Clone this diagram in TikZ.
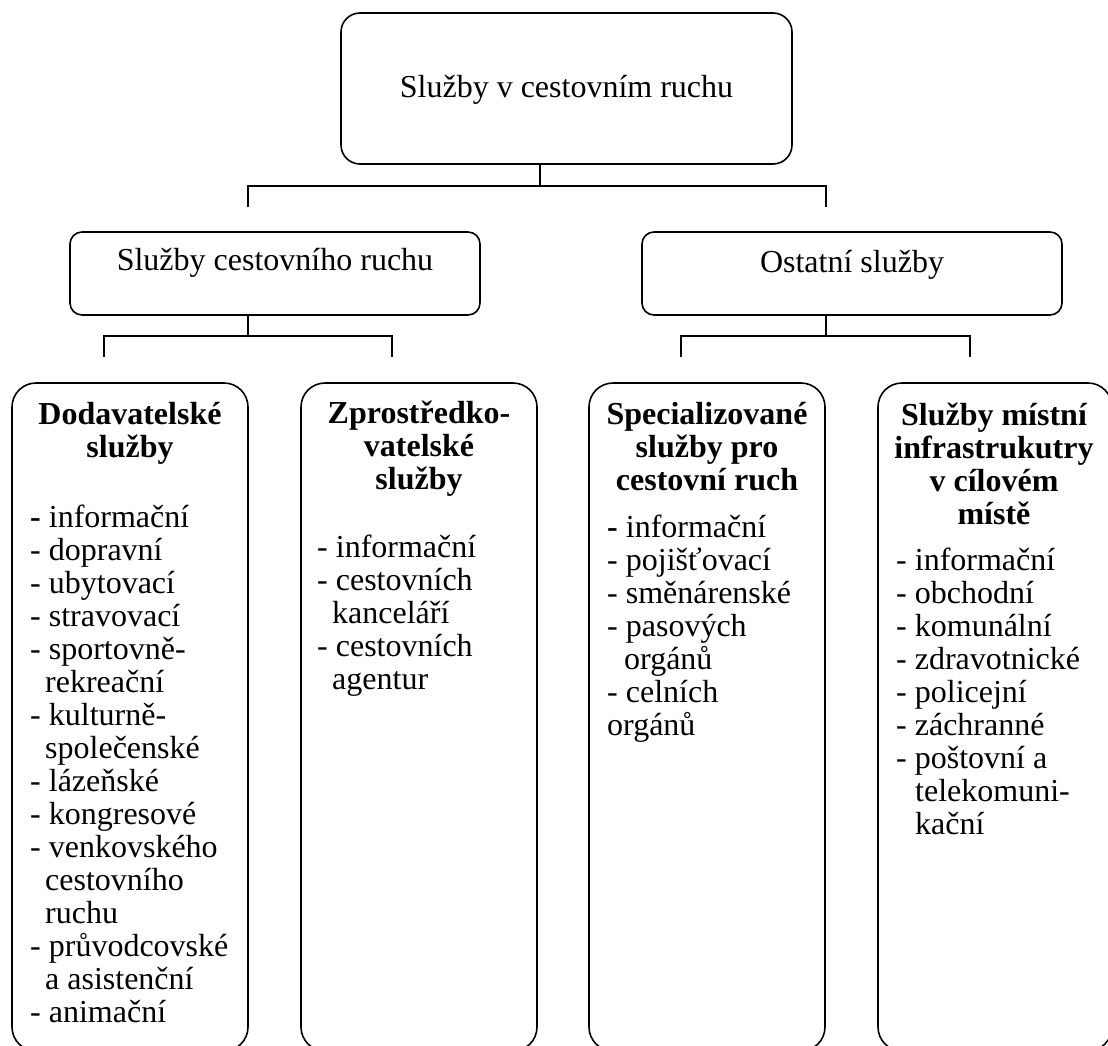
\documentclass[tikz,border=0pt]{standalone}
\usepackage{fontspec}
\setmainfont{Liberation Serif}
\tikzset{
  x=1pt, y=-1pt,
  frame/.style={draw, line width=1.6pt, inner sep=0pt},
  txt/.style={inner sep=0pt, font=\fontsize{32}{33}\selectfont},
  btxt/.style={inner sep=0pt, font=\fontsize{32}{33}\selectfont\bfseries},
  ln/.style={line width=1.6pt}
}
\newcommand\setlns{\baselineskip=33pt\lineskiplimit=-100pt\lineskip=0pt\relax}
\newcommand\cln[1]{\hbox to 0pt{\hss#1\hss}}
\newcommand\ind[2]{\hbox{\kern#1pt #2}}
\begin{document}
\begin{tikzpicture}
\useasboundingbox (0,0) rectangle (1108,1046);
% boxes
\node[frame, rounded corners=19pt, minimum width=451pt, minimum height=151pt] (top) at (566.5,88.5) {};
\node[frame, rounded corners=12pt, minimum width=410pt, minimum height=83pt] (midL) at (275,273.5) {};
\node[frame, rounded corners=12pt, minimum width=420pt, minimum height=83pt] (midR) at (852,273.5) {};
\node[frame, rounded corners=24pt, minimum width=236pt, minimum height=668pt] (b1) at (130,717) {};
\node[frame, rounded corners=24pt, minimum width=236pt, minimum height=668pt] (b2) at (419,717) {};
\node[frame, rounded corners=24pt, minimum width=236pt, minimum height=668pt] (b3) at (707,717) {};
\node[frame, rounded corners=24pt, minimum width=234pt, minimum height=668pt] (b4) at (995,717) {};
% texts
\node[txt, anchor=base] (topT) at (566.5,98) {Služby v cestovním ruchu};
\node[txt, anchor=base] (midLT) at (275,270) {Služby cestovního ruchu};
\node[txt, anchor=base] (midRT) at (852,272) {Ostatní služby};
% box 1
\node[btxt, anchor=base] (h1) at (130,424) {\vtop{\setlns\cln{Dodavatelské}\cln{služby}}};
\node[txt, anchor=base west] (t1) at (30,527) {\vtop{\setlns
  \hbox{\textbf{-} informační}
  \hbox{- dopravní}
  \hbox{- ubytovací}
  \hbox{- stravovací}
  \hbox{- sportovně-}
  \ind{15}{rekreační}
  \hbox{- kulturně-}
  \ind{15}{společenské}
  \hbox{- lázeňské}
  \hbox{- kongresové}
  \hbox{- venkovského}
  \ind{15}{cestovního}
  \ind{15}{ruchu}
  \hbox{- průvodcovské}
  \ind{15}{a asistenční}
  \hbox{- animační}}};
% box 2
\node[btxt, anchor=base] (h2) at (419,423) {\vtop{\setlns\cln{Zprostředko-}\cln{vatelské}\cln{služby}}};
\node[txt, anchor=base west] (t2) at (317,557) {\vtop{\setlns
  \hbox{- informační}
  \hbox{- cestovních}
  \ind{15}{kanceláří}
  \hbox{- cestovních}
  \ind{15}{agentur}}};
% box 3
\node[btxt, anchor=base] (h3) at (707,424) {\vtop{\setlns\cln{Specializované}\cln{služby pro}\cln{cestovní ruch}}};
\node[txt, anchor=base west] (t3) at (607,537) {\vtop{\setlns
  \hbox{\textbf{-} informační}
  \hbox{- pojišťovací}
  \hbox{- směnárenské}
  \hbox{- pasových}
  \ind{17}{orgánů}
  \hbox{- celních}
  \hbox{orgánů}}};
% box 4
\node[btxt, anchor=base] (h4) at (994,425) {\vtop{\setlns\cln{Služby místní}\cln{infrastrukutry}\cln{v cílovém}\cln{místě}}};
\node[txt, anchor=base west] (t4) at (896,570) {\vtop{\setlns
  \hbox{- informační}
  \hbox{- obchodní}
  \hbox{- komunální}
  \hbox{- zdravotnické}
  \hbox{- policejní}
  \hbox{- záchranné}
  \hbox{- poštovní a}
  \ind{19}{telekomuni-}
  \ind{19}{kační}}};
% connectors
\coordinate (tJ) at (540,186);
\coordinate (tL) at (248,207);
\coordinate (tR) at (826,207);
\draw[ln] (top.south -| tJ) -- (tJ);
\draw[ln] (tL) -- (tL |- tJ) -- (tR |- tJ) -- (tR);
\coordinate (lJ) at (248,336);
\coordinate (lA) at (104,357);
\coordinate (lB) at (392,357);
\draw[ln] (midL.south -| lJ) -- (lJ);
\draw[ln] (lA) -- (lA |- lJ) -- (lB |- lJ) -- (lB);
\coordinate (rJ) at (826,336);
\coordinate (rA) at (681,357);
\coordinate (rB) at (970,357);
\draw[ln] (midR.south -| rJ) -- (rJ);
\draw[ln] (rA) -- (rA |- rJ) -- (rB |- rJ) -- (rB);
\end{tikzpicture}
\end{document}
